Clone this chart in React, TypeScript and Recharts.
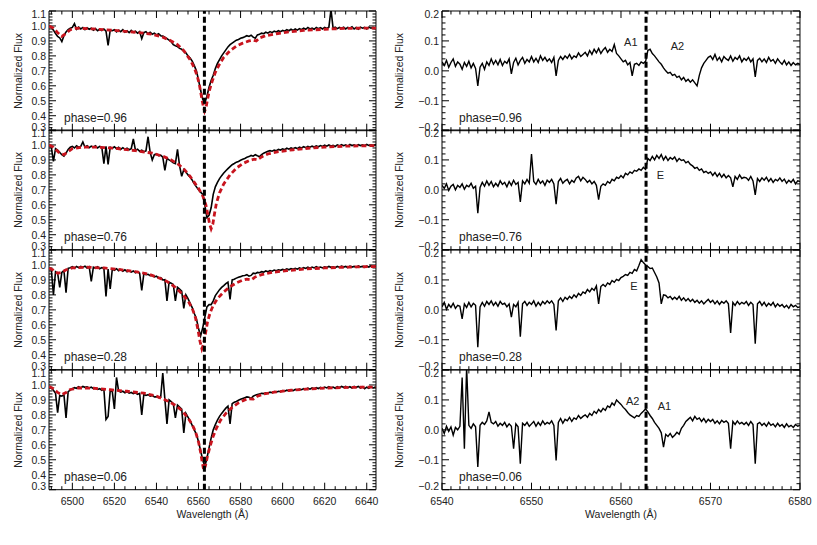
import React from 'react';
import { LineChart, Line, XAxis, YAxis, ReferenceLine, ReferenceArea } from 'recharts';

// left column: observed spectra on a 1 Å grid starting at 6489 Å
const OBS_START = 6489;
const OBS_STEP = 1;
// right column: difference spectra on a 0.25 Å grid starting at 6540 Å
const DIFF_START = 6540;
const DIFF_STEP = 0.25;

const phases = ['0.96', '0.76', '0.28', '0.06'];

const obs096 = [
  0.998, 0.99, 0.972, 0.95, 0.93, 0.92, 0.895, 0.935, 0.96, 0.975,
  0.985, 0.99, 1.015, 0.978, 0.992, 0.98, 0.99, 0.975, 0.988, 0.978,
  0.985, 0.972, 0.982, 0.968, 0.978, 0.97, 0.98, 0.965, 0.87, 0.972,
  0.968, 0.975, 0.96, 0.972, 0.962, 0.975, 0.958, 0.968, 0.955, 0.97,
  0.958, 0.965, 0.952, 0.962, 0.915, 0.955, 0.962, 0.948, 0.958, 0.945,
  0.952, 0.94, 0.948, 0.935, 0.932, 0.925, 0.915, 0.905, 0.895, 0.875,
  0.868, 0.862, 0.85, 0.845, 0.83, 0.82, 0.8, 0.785, 0.765, 0.735,
  0.7, 0.64, 0.57, 0.51, 0.485, 0.53, 0.59, 0.635, 0.67, 0.715,
  0.75, 0.775, 0.8, 0.82, 0.84, 0.86, 0.875, 0.885, 0.895, 0.905,
  0.91, 0.918, 0.922, 0.928, 0.935, 0.93, 0.938, 0.925, 0.918, 0.94,
  0.945, 0.952, 0.948, 0.958, 0.952, 0.962, 0.955, 0.965, 0.96, 0.968,
  0.962, 0.97, 0.965, 0.975, 0.968, 0.978, 0.97, 0.98, 0.972, 0.982,
  0.975, 0.985, 0.978, 0.99, 0.98, 0.985, 0.978, 0.99, 0.982, 0.988,
  0.98, 0.99, 0.983, 0.992, 1.11, 0.985, 0.992, 0.982, 0.99, 0.985,
  0.992, 0.98, 0.99, 0.985, 0.995, 0.98, 0.99, 0.978, 0.992, 0.985,
  0.99, 0.98, 0.992, 0.985, 0.99, 0.982, 0.988,
];

const obs076 = [
  0.995, 0.985, 0.89, 0.975, 0.965, 0.95, 0.935, 0.925, 0.945, 0.97,
  0.985, 0.99, 0.98, 0.995, 0.985, 0.99, 1.02, 0.985, 0.995, 0.982,
  0.992, 0.985, 0.995, 0.98, 0.99, 0.985, 0.875, 0.99, 0.87, 0.985,
  0.978, 0.988, 0.975, 0.985, 0.97, 0.982, 0.972, 0.978, 0.968, 0.975,
  1.04, 0.965, 0.972, 0.958, 0.965, 0.955, 0.96, 1.055, 0.95, 0.9,
  0.935, 0.94, 0.928, 0.932, 0.918, 0.83, 0.91, 0.9, 0.892, 0.88,
  0.875, 0.97, 0.86, 0.79, 0.835, 0.82, 0.8, 0.785, 0.765, 0.74,
  0.72, 0.7, 0.685, 0.67, 0.6, 0.515, 0.53, 0.58, 0.67, 0.72,
  0.75, 0.775, 0.795, 0.812, 0.828, 0.842, 0.855, 0.868, 0.876, 0.885,
  0.89, 0.898, 0.905, 0.91, 0.918, 0.922, 0.93, 0.925, 0.935, 0.928,
  0.922, 0.935, 0.945, 0.952, 0.958, 0.962, 0.958, 0.966, 0.962, 0.97,
  0.966, 0.974, 0.968, 0.978, 0.972, 0.98, 0.975, 0.982, 0.976, 0.985,
  0.98, 0.988, 0.982, 0.99, 0.985, 0.992, 0.986, 0.994, 0.988, 0.996,
  0.99, 0.998, 0.992, 1.0, 0.993, 0.998, 0.99, 1.0, 0.994, 1.002,
  0.995, 1.0, 0.992, 1.003, 0.996, 1.0, 0.993, 1.002, 0.996, 1.0,
  0.995, 1.003, 0.997, 1.0, 0.994, 1.002, 0.998,
];

const obs028 = [
  0.978, 0.97, 0.8, 0.955, 0.945, 0.85, 0.95, 0.962, 0.815, 0.978,
  0.982, 0.988, 0.978, 0.99, 0.982, 0.99, 0.985, 0.992, 0.98, 0.988,
  0.89, 0.985, 0.978, 0.988, 0.975, 0.982, 0.978, 0.79, 0.972, 0.84,
  0.972, 0.965, 0.975, 0.962, 0.97, 0.958, 0.968, 0.955, 0.962, 0.952,
  0.96, 0.948, 0.955, 0.945, 0.83, 0.942, 0.935, 0.938, 0.928, 0.932,
  0.92, 0.925, 0.912, 0.915, 0.9, 0.902, 0.76, 0.885, 0.878, 0.87,
  0.76, 0.85, 0.838, 0.825, 0.71, 0.8, 0.775, 0.745, 0.715, 0.675,
  0.64, 0.575, 0.525, 0.58, 0.65, 0.72, 0.735, 0.735, 0.76, 0.795,
  0.815, 0.835, 0.85, 0.862, 0.875, 0.885, 0.77, 0.9, 0.905, 0.912,
  0.918, 0.922, 0.928, 0.93, 0.935, 0.925, 0.93, 0.945, 0.942, 0.95,
  0.948, 0.955, 0.952, 0.96, 0.955, 0.962, 0.958, 0.966, 0.962, 0.968,
  0.964, 0.97, 0.966, 0.974, 0.968, 0.976, 0.972, 0.978, 0.972, 0.98,
  0.975, 0.982, 0.977, 0.985, 0.978, 0.986, 0.98, 0.988, 0.982, 0.986,
  0.98, 0.988, 0.983, 0.99, 0.984, 0.988, 0.982, 0.99, 0.985, 0.992,
  0.986, 0.99, 0.983, 0.992, 0.986, 0.99, 0.984, 0.993, 0.987, 0.99,
  0.984, 0.992, 0.986, 0.995, 0.985, 0.99, 0.996,
];

const obs006 = [
  0.985, 0.978, 0.965, 0.945, 0.815, 0.93, 0.925, 0.935, 0.78, 0.955,
  0.965, 0.975, 0.982, 0.978, 0.988, 0.98, 0.99, 0.984, 0.988, 0.98,
  0.985, 0.975, 0.98, 0.97, 0.975, 0.965, 0.972, 0.77, 0.79, 0.962,
  0.955, 0.84, 1.05, 0.96, 0.952, 0.958, 0.948, 0.955, 0.945, 0.95,
  0.942, 0.948, 0.938, 0.944, 0.8, 0.938, 0.93, 0.935, 0.925, 0.93,
  0.92, 0.922, 0.915, 0.918, 1.08, 0.905, 0.74, 0.9, 0.888, 0.875,
  0.78, 0.865, 0.852, 0.838, 0.68, 0.81, 0.785, 0.76, 0.73, 0.7,
  0.67, 0.62, 0.56, 0.5, 0.455, 0.51, 0.58, 0.645, 0.7, 0.735,
  0.765, 0.79, 0.81, 0.828, 0.845, 0.858, 0.74, 0.875, 0.884, 0.89,
  0.898, 0.904, 0.91, 0.915, 0.92, 0.918, 0.91, 0.925, 0.932, 0.936,
  0.94, 0.944, 0.942, 0.948, 0.945, 0.952, 0.948, 0.955, 0.952, 0.958,
  0.955, 0.962, 0.958, 0.965, 0.96, 0.968, 0.962, 0.97, 0.965, 0.972,
  0.968, 0.975, 0.97, 0.978, 0.972, 0.98, 0.975, 0.982, 0.976, 0.984,
  0.978, 0.986, 0.98, 0.988, 0.982, 0.986, 0.978, 0.988, 0.982, 0.99,
  0.984, 0.99, 0.982, 0.988, 0.98, 0.99, 0.984, 0.99, 0.98, 0.988,
  0.975, 0.985, 0.978, 0.988, 0.98, 0.985, 0.978,
];

// synthetic (model) profiles, [wavelength, flux]
const model096: [number, number][] = [
  [6489, 1.0], [6491, 0.985], [6493, 0.955], [6495, 0.93], [6497, 0.95], [6499, 0.975], [6502, 0.985],
  [6510, 0.98], [6520, 0.97], [6530, 0.958], [6538, 0.945], [6543, 0.925], [6547, 0.9], [6550, 0.875],
  [6553, 0.835], [6556, 0.775], [6558, 0.72], [6559.5, 0.66], [6560.5, 0.6], [6561.5, 0.52],
  [6562.3, 0.46], [6562.9, 0.43], [6563.5, 0.45], [6564.3, 0.51], [6565.2, 0.57], [6566.5, 0.63],
  [6568, 0.69], [6570, 0.745], [6572, 0.79], [6575, 0.835], [6578, 0.865], [6581, 0.885], [6584, 0.9],
  [6586, 0.905], [6587.5, 0.9], [6589, 0.92], [6592, 0.935], [6597, 0.948], [6603, 0.96], [6610, 0.97],
  [6620, 0.978], [6630, 0.984], [6645, 0.986],
];
const model076: [number, number][] = [
  [6489, 1.0], [6491, 0.985], [6494, 0.945], [6496, 0.935], [6498, 0.955], [6500, 0.975], [6505, 0.985],
  [6512, 0.985], [6520, 0.978], [6530, 0.962], [6538, 0.945], [6543, 0.925], [6547, 0.9], [6550, 0.875],
  [6553, 0.84], [6556, 0.79], [6558, 0.75], [6560, 0.71], [6562, 0.66], [6563.5, 0.6], [6564.5, 0.53],
  [6565.3, 0.47], [6566, 0.44], [6566.8, 0.47], [6567.6, 0.54], [6568.5, 0.61], [6570, 0.68], [6572, 0.74],
  [6575, 0.8], [6578, 0.845], [6581, 0.875], [6584, 0.895], [6586.5, 0.905], [6588, 0.9], [6590, 0.92],
  [6593, 0.94], [6598, 0.955], [6605, 0.968], [6612, 0.978], [6620, 0.986], [6630, 0.992], [6645, 0.996],
];
const model028: [number, number][] = [
  [6489, 0.98], [6491, 0.965], [6493, 0.945], [6495, 0.95], [6497, 0.968], [6500, 0.98], [6506, 0.985],
  [6515, 0.98], [6522, 0.97], [6530, 0.955], [6536, 0.94], [6541, 0.915], [6545, 0.89], [6549, 0.85],
  [6552, 0.81], [6555, 0.76], [6557, 0.71], [6558.5, 0.65], [6559.7, 0.57], [6560.7, 0.49], [6561.6, 0.44],
  [6562.4, 0.47], [6563.3, 0.54], [6564.3, 0.62], [6565.5, 0.68], [6567, 0.73], [6569, 0.775], [6572, 0.82],
  [6575, 0.855], [6578, 0.88], [6581, 0.898], [6583, 0.905], [6585, 0.9], [6587, 0.92], [6590, 0.935],
  [6595, 0.95], [6602, 0.962], [6610, 0.972], [6620, 0.98], [6632, 0.986], [6645, 0.99],
];
const model006: [number, number][] = [
  [6489, 0.99], [6491, 0.975], [6493, 0.95], [6495, 0.935], [6497, 0.95], [6499, 0.97], [6503, 0.98],
  [6510, 0.978], [6518, 0.968], [6526, 0.958], [6534, 0.945], [6540, 0.925], [6545, 0.895], [6549, 0.865],
  [6552, 0.83], [6555, 0.78], [6557, 0.735], [6558.5, 0.69], [6560, 0.62], [6561, 0.55], [6561.8, 0.48],
  [6562.5, 0.43], [6563.3, 0.46], [6564.2, 0.52], [6565.3, 0.58], [6566.8, 0.65], [6568.5, 0.71],
  [6570.5, 0.765], [6573, 0.81], [6576, 0.85], [6579, 0.88], [6582, 0.9], [6584, 0.908], [6586, 0.905],
  [6588, 0.925], [6591, 0.94], [6596, 0.952], [6603, 0.963], [6611, 0.972], [6620, 0.979], [6632, 0.984],
  [6645, 0.986],
];

const diff096 = [
  0.03, 0.018, 0.035, 0.012, 0.028, 0.04, 0.015, 0.03,
  0.022, 0.005, 0.028, 0.015, 0.032, 0.01, 0.025, 0.008,
  -0.05, 0.012, 0.025, 0.005, 0.03, 0.018, 0.04, 0.022,
  0.035, 0.02, 0.038, 0.018, 0.032, 0.025, 0.04, -0.01,
  0.028, 0.042, 0.02, 0.035, 0.045, 0.025, 0.038, 0.03,
  0.048, 0.03, 0.042, 0.028, 0.05, 0.035, 0.045, 0.032,
  0.04, 0.028, 0.045, -0.017, 0.035, 0.048, 0.038, 0.05,
  0.042, 0.055, 0.04, 0.05, 0.045, 0.06, 0.048, 0.055,
  0.062, 0.05, 0.068, 0.055, 0.072, 0.06, 0.075, 0.058,
  0.07, 0.078, 0.062, 0.072, 0.065, 0.088, 0.058, 0.05,
  0.04, 0.03, 0.035, 0.02, 0.028, -0.017, 0.022, 0.025,
  0.018, 0.03, 0.025, 0.032, 0.068, 0.072, 0.058, 0.05,
  0.04, 0.03, 0.022, 0.01, 0.0, -0.008, -0.005, -0.015,
  -0.012, -0.022, -0.018, -0.03, -0.022, -0.035, -0.028, -0.038,
  -0.03, -0.04, -0.05, -0.015, 0.01, 0.025, 0.035, 0.045,
  0.05, 0.038, 0.055, 0.035, 0.045, 0.03, 0.048, 0.04,
  0.035, 0.05, 0.032, 0.045, 0.038, 0.05, 0.03, 0.042,
  0.035, 0.045, 0.03, 0.04, -0.02, 0.035, 0.042, 0.03,
  0.04, 0.028, 0.045, 0.032, 0.038, 0.025, 0.04, 0.03,
  0.022, 0.035, 0.02, 0.03, 0.018, 0.028, 0.02, 0.025,
  0.022,
];

const diff076 = [
  0.015, 0.005, 0.02, -0.002, 0.012, 0.018, 0.0, 0.015,
  0.008, 0.02, 0.002, 0.015, 0.01, 0.022, 0.005, 0.012,
  -0.078, 0.008, 0.025, 0.012, 0.03, 0.015, 0.028, 0.01,
  0.022, 0.012, 0.03, 0.018, 0.025, 0.01, 0.028, 0.015,
  0.032, 0.018, 0.025, -0.04, 0.03, 0.02, 0.035, 0.022,
  0.12, 0.028, 0.018, 0.035, 0.022, 0.03, 0.015, 0.032,
  0.025, 0.035, 0.02, -0.048, 0.028, 0.038, 0.022, 0.03,
  0.035, 0.02, 0.032, 0.025, 0.04, 0.045, 0.03, 0.042,
  0.035, 0.025, 0.032, 0.02, 0.028, 0.015, -0.033, 0.012,
  0.02, 0.015, 0.028, 0.022, 0.035, 0.03, 0.042, 0.038,
  0.048, 0.04, 0.055, 0.05, 0.06, 0.055, 0.065, 0.062,
  0.07, 0.065, 0.075, 0.068, 0.105, 0.098, 0.112, 0.1,
  0.115, 0.105, 0.118, 0.1, 0.112, 0.098, 0.108, 0.102,
  0.11, 0.095, 0.105, 0.098, 0.1, 0.09, 0.095, 0.085,
  0.08, 0.072, 0.075, 0.065, 0.07, 0.058, 0.062, 0.055,
  0.06, 0.048, 0.058, 0.045, 0.055, 0.042, 0.052, 0.04,
  0.048, 0.04, 0.01, 0.045, 0.035, 0.05, 0.038, 0.042,
  0.04, 0.032, 0.045, 0.03, -0.017, 0.038, 0.028, 0.04,
  0.032, 0.042, 0.028, 0.038, 0.025, 0.035, 0.03, 0.04,
  0.028, 0.036, 0.022, 0.032, 0.025, 0.035, 0.02, 0.03,
  0.028,
];

const diff028 = [
  0.01, 0.025, 0.002, 0.018, 0.008, 0.022, 0.005, 0.015,
  0.012, -0.03, 0.02, 0.008, 0.025, 0.01, 0.022, 0.015,
  -0.125, 0.01, 0.025, 0.012, 0.028, 0.018, 0.03, 0.015,
  0.025, 0.012, 0.028, 0.018, 0.022, 0.01, 0.02, -0.024,
  0.018, 0.01, 0.025, -0.09, 0.02, 0.028, 0.015, 0.025,
  0.018, 0.03, 0.012, 0.025, 0.015, 0.028, 0.02, 0.03,
  0.022, 0.03, 0.018, -0.069, 0.03, 0.04, 0.028, 0.042,
  0.035, 0.045, 0.038, 0.05, 0.042, 0.055, 0.048, 0.06,
  0.055, 0.068, 0.06, 0.072, 0.065, 0.08, 0.02, 0.078,
  0.085, 0.078, 0.09, 0.085, 0.098, 0.092, 0.102, 0.098,
  0.108, 0.112, 0.118, 0.115, 0.125, 0.122, 0.135, 0.13,
  0.148, 0.168, 0.158, 0.15, 0.145, 0.138, 0.14, 0.125,
  0.11, 0.09, 0.02, 0.05, 0.048, 0.04, 0.045, 0.035,
  0.042, 0.035, 0.045, 0.032, 0.04, 0.03, 0.038, 0.028,
  0.035, 0.025, 0.032, 0.022, 0.03, 0.02, 0.028, 0.035,
  0.025, 0.032, 0.02, 0.03, 0.018, 0.028, 0.022, 0.03,
  0.02, -0.077, 0.025, 0.015, 0.028, 0.018, 0.025, 0.02,
  0.028, 0.015, 0.025, 0.018, -0.113, 0.02, 0.028, 0.015,
  0.025, 0.012, 0.022, 0.015, 0.025, 0.01, 0.02, 0.012,
  0.018, 0.008, 0.015, 0.005, 0.018, 0.01, 0.015, 0.008,
  0.01,
];

const diff006 = [
  0.005, -0.012, 0.012, -0.005, 0.01, -0.018, 0.008, 0.0,
  0.012, 0.175, -0.063, 0.21, 0.015, 0.005, 0.02, 0.01,
  -0.124, 0.015, 0.025, 0.018, 0.03, 0.06, 0.025, 0.02,
  0.028, 0.012, 0.022, 0.015, 0.025, 0.01, 0.02, 0.012,
  -0.063, 0.02, 0.01, -0.113, 0.022, 0.015, 0.025, 0.012,
  0.02, 0.028, 0.012, 0.025, 0.015, 0.03, 0.018, 0.025,
  0.02, 0.03, 0.015, -0.102, 0.025, 0.038, 0.022, 0.035,
  0.03, 0.042, 0.028, 0.04, 0.035, 0.048, 0.038, 0.045,
  0.05, 0.042, 0.055, 0.048, 0.062, 0.055, 0.068, 0.06,
  0.072, 0.065, 0.08, 0.075, 0.09, 0.082, 0.1, 0.092,
  0.085, 0.075, 0.068, 0.058, 0.05, 0.045, 0.04, 0.048,
  0.045, 0.055, 0.062, 0.07, 0.06, 0.048, 0.038, 0.025,
  0.015, 0.005, -0.01, -0.058, -0.015, -0.022, -0.012, -0.025,
  -0.018, -0.008, -0.015, 0.005, 0.015, 0.028, 0.035, 0.042,
  0.03, 0.045, 0.035, 0.04, 0.028, 0.038, 0.025, 0.035,
  0.028, 0.035, 0.022, 0.03, 0.02, 0.032, 0.025, 0.03,
  0.022, -0.063, 0.028, 0.018, 0.03, 0.02, 0.025, 0.018,
  0.025, 0.015, 0.028, 0.018, -0.113, 0.02, 0.025, 0.015,
  0.022, 0.012, 0.025, 0.015, 0.02, 0.01, 0.022, 0.012,
  0.018, 0.008, 0.02, 0.01, 0.015, 0.008, 0.018, 0.012,
  0.015,
];

const diffNotes = [
  [{ x: 6561.1, y: 0.098, text: 'A1' }, { x: 6566.3, y: 0.082, text: 'A2' }],
  [{ x: 6564.4, y: 0.051, text: 'E' }],
  [{ x: 6561.45, y: 0.08, text: 'E' }],
  [{ x: 6561.3, y: 0.097, text: 'A2' }, { x: 6564.85, y: 0.081, text: 'A1' }],
];

const H_ALPHA = 6562.8;

const leftXMajor = [6500, 6520, 6540, 6560, 6580, 6600, 6620, 6640];
const rightXMajor = [6540, 6550, 6560, 6570, 6580];
const leftYMajor = [0.3, 0.4, 0.5, 0.6, 0.7, 0.8, 0.9, 1.0, 1.1];
const rightYMajor = [-0.2, -0.1, 0.0, 0.1, 0.2];

const FONT = '"Liberation Sans", Arial, sans-serif';
const TXT = '#222';

type Pt = { x: number; y: number };
type Note = { x: number; y: number; text: string };

const gridSeries = (start: number, step: number, values: number[]): Pt[] =>
  values.map((y, i) => ({ x: Math.round((start + i * step) * 100) / 100, y }));
const pairSeries = (pairs: [number, number][]): Pt[] => pairs.map(([x, y]) => ({ x, y }));

const stepTicks = (from: number, to: number, step: number) => {
  const out: number[] = [];
  const n = Math.round((to - from) / step);
  for (let i = 0; i <= n; i++) out.push(Math.round((from + i * step) * 1000) / 1000);
  return out;
};
const isIn = (list: number[], v: number) => list.some((m) => Math.abs(m - v) < 1e-6);

const fmtLeft = (v: number) => v.toFixed(1);
const fmtRight = (v: number) => (v < -1e-9 ? '\u2212' + Math.abs(v).toFixed(1) : Math.abs(v).toFixed(1));

interface PanelProps {
  left: number;
  top: number;
  plotW: number;
  plotH: number;
  yAxisW: number;
  titleOffset: number;
  xDomain: [number, number];
  yDomain: [number, number];
  xTicks: number[];
  xMajor: number[];
  yTicks: number[];
  yMajor: number[];
  fmtY: (v: number) => string;
  bottom: boolean;
  phase: string;
  phaseInset: number;
  obs: Pt[];
  obsWidth: number;
  model?: Pt[];
  notes?: Note[];
}

const MT = 12; // room above the plot for the top tick label
const MAJOR_LEN = 7;
const MINOR_LEN = 3.5;

const Panel: React.FC<PanelProps> = (p) => {
  const xAxisH = p.bottom ? 30 : 0;
  const mb = p.bottom ? 10 : 12;
  const width = p.yAxisW + p.plotW + 12;
  const height = MT + p.plotH + xAxisH + mb;
  const [x0, x1] = p.xDomain;
  const [y0, y1] = p.yDomain;

  const frameShape = (sp: any) => {
    const x = Number(sp.x);
    const y = Number(sp.y);
    const w = Number(sp.width);
    const h = Number(sp.height);
    return <path d={`M${x},${y}h${w}v${h}h${-w}Z`} fill="none" stroke="#000" strokeWidth={1} />;
  };

  // inward ticks on all four sides (IDL style), phase label and annotations,
  // all placed on the plot rectangle handed over by the library
  const frameLabel = (lp: any) => {
    const bx = Number(lp.viewBox.x);
    const by = Number(lp.viewBox.y);
    const bw = Number(lp.viewBox.width);
    const bh = Number(lp.viewBox.height);
    const px = (v: number) => bx + ((v - x0) / (x1 - x0)) * bw;
    const py = (v: number) => by + bh - ((v - y0) / (y1 - y0)) * bh;
    let d = '';
    p.xTicks.forEach((v) => {
      const len = isIn(p.xMajor, v) ? MAJOR_LEN : MINOR_LEN;
      const X = px(v).toFixed(2);
      d += `M${X},${(by + bh).toFixed(2)}v${-len}M${X},${by.toFixed(2)}v${len}`;
    });
    p.yTicks.forEach((v) => {
      const len = isIn(p.yMajor, v) ? MAJOR_LEN : MINOR_LEN;
      const Y = py(v).toFixed(2);
      d += `M${bx.toFixed(2)},${Y}h${len}M${(bx + bw).toFixed(2)},${Y}h${-len}`;
    });
    return (
      <g>
        <path d={d} fill="none" stroke="#000" strokeWidth={1} />
        <text x={bx + p.phaseInset} y={by + bh - 8.5} fontSize={12} fontFamily={FONT} fill={TXT}>
          {'phase=' + p.phase}
        </text>
        {(p.notes || []).map((n, i) => (
          <text key={i} x={px(n.x)} y={py(n.y) + 4} textAnchor="middle" fontSize={11} fontFamily={FONT} fill={TXT}>
            {n.text}
          </text>
        ))}
      </g>
    );
  };

  const xTick = (t: any) => {
    const v = t.payload.value;
    if (!isIn(p.xMajor, v)) return <g />;
    return (
      <text x={t.x} y={Number(t.y) + 15} textAnchor="middle" fontSize={10.5} fontFamily={FONT} fill={TXT}>
        {v}
      </text>
    );
  };

  const yTick = (t: any) => {
    const v = t.payload.value;
    if (!isIn(p.yMajor, v)) return <g />;
    let dy = 3.8;
    if (Math.abs(v - y1) < 1e-6) dy += 3;
    if (Math.abs(v - y0) < 1e-6) dy -= 3.5;
    return (
      <text x={Number(t.x) - 3} y={Number(t.y) + dy} textAnchor="end" fontSize={10.5} fontFamily={FONT} fill={TXT}>
        {p.fmtY(v)}
      </text>
    );
  };

  return (
    <div style={{ position: 'absolute', left: p.left, top: p.top - MT }}>
      <LineChart width={width} height={height} margin={{ top: MT, right: 12, bottom: mb, left: 0 }}>
        <XAxis
          type="number"
          dataKey="x"
          domain={p.xDomain}
          allowDataOverflow
          hide={!p.bottom}
          ticks={p.bottom ? p.xMajor : undefined}
          interval={0}
          height={p.bottom ? xAxisH : 0}
          tickSize={0}
          tickMargin={0}
          axisLine={false}
          tickLine={false}
          tick={xTick}
          label={
            p.bottom
              ? (lp: any) => {
                  const vb = lp.viewBox;
                  return (
                    <text x={vb.x + vb.width / 2} y={vb.y + 28} textAnchor="middle" fontSize={10.5} fontFamily={FONT} fill={TXT}>
                      Wavelength (Å)
                    </text>
                  );
                }
              : undefined
          }
        />
        <YAxis
          type="number"
          domain={p.yDomain}
          allowDataOverflow
          ticks={p.yMajor}
          interval={0}
          width={p.yAxisW}
          tickSize={0}
          tickMargin={0}
          axisLine={false}
          tickLine={false}
          tick={yTick}
          label={(lp: any) => {
            const vb = lp.viewBox;
            const cx = vb.x + vb.width - p.titleOffset;
            const cy = vb.y + vb.height / 2;
            return (
              <text x={cx} y={cy} transform={`rotate(-90 ${cx} ${cy})`} textAnchor="middle" dominantBaseline="central"
                fontSize={10.5} fontFamily={FONT} fill={TXT}>
                Normalized Flux
              </text>
            );
          }}
        />
        <ReferenceArea x1={x0} x2={x1} y1={y0} y2={y1} ifOverflow="visible" shape={frameShape} label={frameLabel} />
        <Line data={p.obs} dataKey="y" type="linear" stroke="#000" strokeWidth={p.obsWidth} dot={false} isAnimationActive={false} />
        {p.model && (
          <Line data={p.model} dataKey="y" type="linear" stroke="#c8141e" strokeWidth={2.8} strokeDasharray="5 3"
            dot={false} isAnimationActive={false} />
        )}
        <ReferenceLine x={H_ALPHA} stroke="#000" strokeWidth={3} strokeDasharray="6 3" />
      </LineChart>
    </div>
  );
};

const obsSets = [obs096, obs076, obs028, obs006];
const modelSets = [model096, model076, model028, model006];
const diffSets = [diff096, diff076, diff028, diff006];

const PANEL_TOP = 10.5;
const PANEL_H = 119.7;

const App: React.FC = () => {
  const leftXTicks = stepTicks(6490, 6640, 5);
  const rightXTicks = stepTicks(6540, 6580, 1);
  const leftYTicks = stepTicks(0.3, 1.1, 0.02);
  const rightYTicks = stepTicks(-0.2, 0.2, 0.02);

  return (
    <div style={{ position: 'absolute', left: 0, top: 0, width: 817, height: 545, background: '#fff', overflow: 'hidden' }}>
      {phases.map((ph, i) => (
        <Panel
          key={'l' + i}
          left={0}
          top={PANEL_TOP + i * PANEL_H}
          plotW={327}
          plotH={PANEL_H}
          yAxisW={49}
          titleOffset={31}
          xDomain={[6488.9, 6644.4]}
          yDomain={[0.3, 1.1]}
          xTicks={leftXTicks}
          xMajor={leftXMajor}
          yTicks={leftYTicks}
          yMajor={leftYMajor}
          fmtY={fmtLeft}
          bottom={i === 3}
          phase={ph}
          phaseInset={15}
          obs={gridSeries(OBS_START, OBS_STEP, obsSets[i])}
          obsWidth={1.6}
          model={pairSeries(modelSets[i])}
        />
      ))}
      {phases.map((ph, i) => (
        <Panel
          key={'r' + i}
          left={390}
          top={PANEL_TOP + i * PANEL_H}
          plotW={358}
          plotH={PANEL_H}
          yAxisW={52}
          titleOffset={43}
          xDomain={[6540, 6580]}
          yDomain={[-0.2, 0.2]}
          xTicks={rightXTicks}
          xMajor={rightXMajor}
          yTicks={rightYTicks}
          yMajor={rightYMajor}
          fmtY={fmtRight}
          bottom={i === 3}
          phase={ph}
          phaseInset={17}
          obs={gridSeries(DIFF_START, DIFF_STEP, diffSets[i])}
          obsWidth={1.4}
          notes={diffNotes[i]}
        />
      ))}
    </div>
  );
};

export default App;
